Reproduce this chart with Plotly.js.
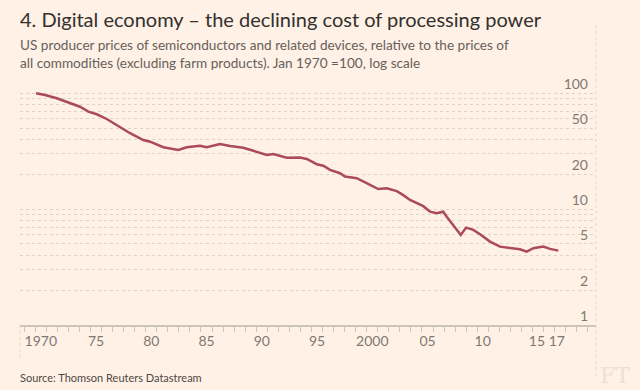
<!DOCTYPE html>
<html>
<head>
<meta charset="utf-8">
<script src="https://cdn.plot.ly/plotly-3.0.1.min.js"></script>
<style>
  html, body { margin: 0; padding: 0; background: #fff1e5; }
  #chart { width: 640px; height: 390px; }
</style>
</head>
<body>
<div id="chart"></div>
<script>
// Decimal year (Jan 1970 = 1970.0) and index value (Jan 1970 = 100, log scale)
const years = [
  1970.07, 1970.89, 1971.95, 1972.85, 1974.05, 1974.80, 1975.57, 1976.47, 1977.38, 1978.58,
  1979.78, 1980.39, 1981.59, 1982.95, 1983.71, 1984.91, 1985.52, 1985.97, 1986.72, 1987.63,
  1988.83, 1989.74, 1990.50, 1990.95, 1991.55, 1992.76, 1993.96, 1994.57, 1995.48, 1996.07,
  1996.68, 1997.58, 1998.04, 1999.10, 2000.30, 2001.05, 2001.81, 2002.72, 2003.31, 2003.92,
  2005.12, 2005.73, 2006.33, 2006.93, 2007.24, 2007.84, 2008.51, 2008.99, 2009.65, 2010.25,
  2011.16, 2012.06, 2012.97, 2013.87, 2014.48, 2015.08, 2015.98, 2016.59, 2017.34
];
const values = [
  100, 96.7, 90.5, 84.6, 76.6, 69.4, 65.9, 60.0, 53.3, 45.2,
  39.5, 38.2, 34.2, 32.4, 34.2, 35.3, 34.2, 35.1, 36.5, 35.1,
  33.9, 31.9, 30.3, 29.3, 29.9, 27.8, 27.9, 27.1, 24.4, 23.7,
  21.8, 20.4, 19.1, 18.5, 16.2, 14.9, 15.1, 14.3, 13.2, 12.0,
  10.6, 9.5, 9.2, 9.5, 8.6, 7.3, 5.98, 6.92, 6.61, 6.07,
  5.24, 4.74, 4.59, 4.50, 4.29, 4.59, 4.74, 4.53, 4.38
];

// Axis ticks
const yGridVals = [1,2,3,4,5,6,7,8,9,10,20,30,40,50,60,70,80,90,100];
const yLabelVals = [1,2,5,10,20,50,100];
const xLabelPos = [1970.5, 1975.5, 1980.5, 1985.5, 1990.5, 1995.5, 2000.5, 2005.5, 2010.5, 2015.4, 2017.2];
const xLabelText = ['1970', '75', '80', '85', '90', '95', '2000', '05', '10', '15', '17'];

const titleText = '4. Digital economy \u2013 the declining cost of processing power';
const subtitleText = 'US producer prices of semiconductors and related devices, relative to the prices of<br>all commodities (excluding farm products). Jan 1970 =100, log scale';
const sourceText = 'Source: Thomson Reuters Datastream';

const W = 640, H = 390;
const M = {l: 20, r: 44, t: 75, b: 65};
const plotW = W - M.l - M.r, plotH = H - M.t - M.b;
const pxX = px => (px - M.l) / plotW;
const pxY = py => (H - M.b - py) / plotH;

const trace = {
  x: years,
  y: values,
  type: 'scatter',
  mode: 'lines',
  line: {color: '#aa4a5c', width: 2.5},
  hoverinfo: 'skip'
};

const font = "Lato, 'Open Sans', sans-serif";

const layout = {
  width: W, height: H,
  margin: M,
  paper_bgcolor: '#fff1e5',
  plot_bgcolor: '#fff1e5',
  showlegend: false,
  font: {family: font, color: '#807973'},
  xaxis: {
    range: [1968.62, 2020.75],
    tickvals: xLabelPos,
    ticktext: xLabelText,
    ticks: 'outside',
    ticklen: 3,
    tickcolor: 'rgba(0,0,0,0)',
    showgrid: false,
    zeroline: false,
    showline: true,
    linecolor: '#cdc4bb',
    linewidth: 1.5,
    tickfont: {family: font, size: 14, color: '#807973'},
    minor: {ticks: 'outside', tick0: 1970, dtick: 1, ticklen: 5, tickcolor: '#cdc4bb', tickwidth: 1, showgrid: false}
  },
  yaxis: {
    type: 'log',
    range: [-0.001, plotH / 115.85],
    side: 'right',
    tickvals: yGridVals,
    ticktext: yGridVals.map(v => yLabelVals.includes(v) ? String(v) : ''),
    ticklabelposition: 'inside',
    ticklabelshift: -9,
    ticklabelstandoff: 5,
    ticklabeloverflow: 'allow',
    ticks: '',
    showgrid: true,
    gridcolor: '#ddd3c9',
    griddash: 'dot',
    gridwidth: 1,
    zeroline: false,
    showline: false,
    tickfont: {family: font, size: 14, color: '#807973'}
  },
  shapes: [
    {type: 'line', xref: 'paper', yref: 'paper', x0: 1, x1: 1, y0: pxY(25), y1: pxY(377),
     line: {color: '#e2d8ce', width: 1, dash: 'dot'}},
    {type: 'line', xref: 'paper', yref: 'paper', x0: 0, x1: 0, y0: 0, y1: pxY(360),
     line: {color: '#e2d8ce', width: 1, dash: 'dot'}}
  ],
  annotations: [
    {text: titleText, xref: 'paper', yref: 'paper', x: pxX(18), y: pxY(5), xanchor: 'left', yanchor: 'top',
     showarrow: false, font: {family: font, size: 20, color: '#33302e'}},
    {text: subtitleText, xref: 'paper', yref: 'paper', x: pxX(18), y: pxY(35), xanchor: 'left', yanchor: 'top',
     align: 'left', showarrow: false, font: {family: font, size: 13.6, color: '#66605c'}},
    {text: sourceText, xref: 'paper', yref: 'paper', x: pxX(18), y: pxY(377), xanchor: 'left', yanchor: 'middle',
     showarrow: false, font: {family: font, size: 11, color: '#4d4845'}},
    {text: 'FT', xref: 'paper', yref: 'paper', x: pxX(632), y: pxY(375), xanchor: 'right', yanchor: 'middle',
     showarrow: false, font: {family: "'DejaVu Serif', 'Liberation Serif', serif", size: 22, color: '#ebe0d6'}}
  ]
};

Plotly.newPlot('chart', [trace], layout, {staticPlot: true, displayModeBar: false});
</script>
</body>
</html>
